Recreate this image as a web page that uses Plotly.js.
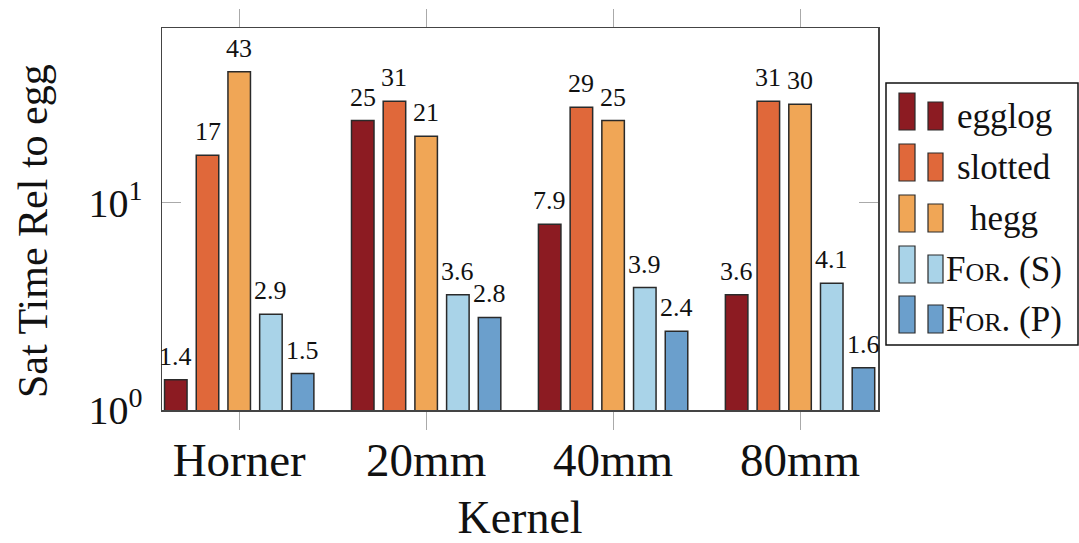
<!DOCTYPE html>
<html>
<head>
<meta charset="utf-8">
<script src="https://cdn.plot.ly/plotly-3.0.1.min.js"></script>
<style>html,body{margin:0;padding:0;background:#fff;}#chart{width:1079px;height:543px;}</style>
</head>
<body>
<div id="chart"></div>
<script>
const categories = ["Horner", "20mm", "40mm", "80mm"];
const seriesNames = ["egglog", "slotted", "hegg", "For. (S)", "For. (P)"];
const legendLabels = ["egglog", "slotted", "hegg",
  "F<span style='font-size:26px'>OR</span>. (S)",
  "F<span style='font-size:26px'>OR</span>. (P)"];
const egglog  = [1.4, 25, 7.9, 3.6];
const slotted = [17, 31, 29, 31];
const hegg    = [43, 21, 25, 30];
const forS    = [2.9, 3.6, 3.9, 4.1];
const forP    = [1.5, 2.8, 2.4, 1.6];
const yTickVals = [1, 10];
const yTickText = ["10<sup>0</sup>", "10<sup>1</sup>"];

const colors = ["#8c1b22", "#e0683a", "#f0a656", "#a9d3e8", "#6b9fcc"];
const series = [egglog, slotted, hegg, forS, forP];
const FONT = "'Liberation Serif', 'Times New Roman', serif";
const BARGAP = 0.152, BARGROUPGAP = 0.29;

// plot-area geometry in pixels (for the custom legend)
const L = 162, R = 878, T = 28, B = 410;
const W = 1079, H = 543;
const px = x => (x - L) / (R - L);
const py = y => (B - y) / (B - T);

const traces = series.map((vals, i) => ({
  type: "bar",
  name: seriesNames[i],
  x: categories,
  y: vals,
  marker: {color: colors[i], line: {color: "#2a2a2a", width: 1.5}},
  showlegend: false,
  hoverinfo: "x+y"
}));

const shapes = [];
const annotations = [];

// value labels above bars (positioned via the axes from the data)
const slot = (1 - BARGAP) / series.length;
series.forEach((vals, j) => {
  vals.forEach((v, i) => {
    annotations.push({xref: "x", yref: "y",
      x: i + (j - (series.length - 1) / 2) * slot, y: Math.log10(v),
      xanchor: "center", yanchor: "bottom", yshift: 7, showarrow: false,
      text: String(v), font: {family: FONT, size: 26, color: "#111"}});
  });
});

// y-axis title
annotations.push({xref: "paper", yref: "paper", x: px(33), y: py(231),
  xanchor: "center", yanchor: "middle", textangle: -90, showarrow: false,
  text: "Sat Time Rel to egg", font: {family: FONT, size: 42, color: "#111"}});

// legend box
shapes.push({type: "rect", xref: "paper", yref: "paper",
  x0: px(886), x1: px(1078), y0: py(345), y1: py(83),
  line: {color: "#111", width: 1.5}, fillcolor: "rgba(0,0,0,0)"});
const rowBottoms = [130, 181, 232, 283, 333];
rowBottoms.forEach((b, i) => {
  shapes.push({type: "rect", xref: "paper", yref: "paper",
    x0: px(899), x1: px(915), y0: py(b), y1: py(b - 37),
    fillcolor: colors[i], line: {color: "#2a2a2a", width: 1.2}});
  shapes.push({type: "rect", xref: "paper", yref: "paper",
    x0: px(928), x1: px(943), y0: py(b), y1: py(b - 28),
    fillcolor: colors[i], line: {color: "#2a2a2a", width: 1.2}});
  annotations.push({xref: "paper", yref: "paper", x: px(1004), y: py(b - 14),
    xanchor: "center", yanchor: "middle", showarrow: false,
    text: legendLabels[i], font: {family: FONT, size: 35, color: "#111"}});
});

const layout = {
  width: W, height: H,
  margin: {l: L, r: W - R, t: T, b: H - B, pad: 0},
  paper_bgcolor: "#fff", plot_bgcolor: "#fff",
  barmode: "group",
  bargap: BARGAP,
  bargroupgap: BARGROUPGAP,
  font: {family: FONT, color: "#111"},
  xaxis: {
    type: "category",
    range: [-0.413, 3.417],
    showline: true, linecolor: "#444", linewidth: 1.5, mirror: "ticks",
    ticks: "outside", ticklen: 18, tickcolor: "#aaa", tickwidth: 1,
    showgrid: false, zeroline: false,
    tickfont: {family: FONT, size: 47, color: "#111"},
    ticklabelstandoff: -10,
    title: {text: "Kernel", font: {family: FONT, size: 46, color: "#111"}, standoff: 29}
  },
  yaxis: {
    type: "log",
    range: [0, 1.845],
    showline: true, linecolor: "#444", linewidth: 1.5, mirror: "ticks",
    ticks: "inside", ticklen: 19, tickcolor: "#aaa", tickwidth: 1,
    tickvals: yTickVals, ticktext: yTickText,
    showgrid: false, zeroline: false,
    tickfont: {family: FONT, size: 40, color: "#111"},
    ticklabelstandoff: 10
  },
  shapes: shapes,
  annotations: annotations,
  showlegend: false
};

Plotly.newPlot("chart", traces, layout, {displayModeBar: false, staticPlot: true});
</script>
</body>
</html>
